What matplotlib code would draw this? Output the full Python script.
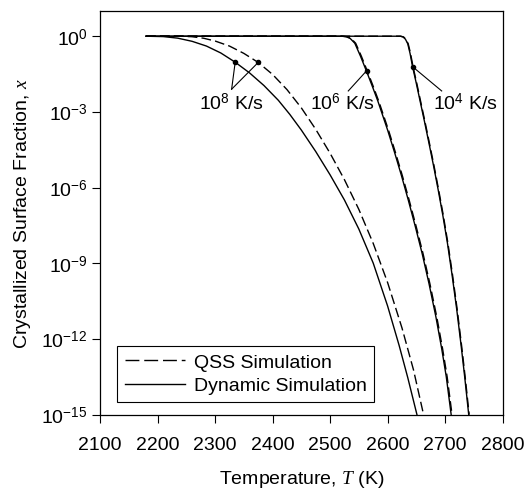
import numpy as np
import matplotlib
matplotlib.use("Agg")
import matplotlib.pyplot as plt
from matplotlib.lines import Line2D

plt.rcParams['font.family'] = ['Liberation Sans', 'DejaVu Sans']
plt.rcParams['mathtext.fontset'] = 'custom'
plt.rcParams['mathtext.rm'] = 'Liberation Sans'
plt.rcParams['mathtext.sf'] = 'Liberation Sans'
plt.rcParams['mathtext.it'] = 'Liberation Serif:italic'
plt.rcParams['mathtext.bf'] = 'Liberation Sans:bold'
plt.rcParams['font.size'] = 14

# temperature (K) and log10 of crystallized fraction
T_dyn_8 = [2180, 2210, 2235, 2260, 2285, 2310, 2335, 2360, 2385, 2410, 2430,
           2450, 2475, 2500, 2525, 2550, 2575, 2600, 2620, 2635, 2651]
d_dyn_8 = [0, -0.015, -0.077, -0.202, -0.39, -0.665, -1.03, -1.455, -1.955, -2.54, -3.10,
           -3.72, -4.57, -5.495, -6.495, -7.645, -8.995, -10.695, -12.255, -13.53, -15.0]

T_qss_8 = [2180, 2240, 2260, 2280, 2300, 2325, 2350, 2375, 2400, 2425, 2450,
           2475, 2500, 2525, 2550, 2575, 2600, 2625, 2645, 2662.5]
d_qss_8 = [0, 0, -0.02, -0.08, -0.19, -0.39, -0.68, -1.04, -1.515, -2.115, -2.84,
           -3.69, -4.64, -5.69, -6.865, -8.215, -9.765, -11.565, -13.225, -15.0]

T_dyn_6 = [2180, 2520, 2528, 2535, 2543, 2553, 2563, 2573, 2583, 2600, 2612,
           2624, 2636, 2648, 2660, 2672, 2684, 2694, 2702, 2710.5]
d_dyn_6 = [0, 0, -0.02, -0.09, -0.28, -0.8, -1.37, -1.96, -2.57, -3.72, -4.6,
           -5.52, -6.5, -7.53, -8.61, -9.81, -11.13, -12.38, -13.5, -15.0]
T_qss_6 = [2180, 2521.5, 2529.5, 2536.5, 2544.5, 2554.5, 2564.5, 2574.5, 2584.5, 2601.5, 2613.5,
           2625.5, 2637.5, 2649.5, 2661.5, 2673.5, 2685.5, 2695.5, 2703.5, 2712]
d_qss_6 = d_dyn_6

T_dyn_4 = [2180, 2622, 2627, 2631, 2635, 2639, 2643.5, 2650, 2656, 2664, 2672,
           2680, 2688, 2696, 2704, 2712, 2720, 2728, 2734, 2741]
d_dyn_4 = [0, 0, -0.03, -0.12, -0.3, -0.68, -1.22, -1.88, -2.52, -3.37, -4.25,
           -5.15, -6.1, -7.1, -8.2, -9.45, -10.8, -12.3, -13.5, -15.0]
T_qss_4 = [2180, 2622.8, 2627.8, 2631.8, 2635.8, 2639.8, 2644.3, 2650.8, 2656.8, 2664.8, 2672.8,
           2680.8, 2688.8, 2696.8, 2704.8, 2712.8, 2720.8, 2728.8, 2734.8, 2741.8]
d_qss_4 = d_dyn_4

# rate labels with their leader lines and marker dots
rate_labels = ['10$^8$ K/s', '10$^6$ K/s', '10$^4$ K/s']
label_T = [2328, 2521.5, 2734.5]
label_d = [-2.62, -2.62, -2.62]
joint_T = [2328.8, 2531.6, 2694]
joint_d = [-2.10, -2.17, -2.17]
mark_T = [[2335, 2375], [2563.5], [2644]]
mark_d = [[-1.03, -1.04], [-1.37], [-1.22]]

yticks_exp = [0, -3, -6, -9, -12, -15]

fig = plt.figure(figsize=(5.27, 4.89), dpi=100)
ax = fig.add_axes([0.1898, 0.150, 0.764, 0.8255])

lw = 1.0
dash = (7, 3)
for T, d in [(T_dyn_8, d_dyn_8), (T_dyn_6, d_dyn_6), (T_dyn_4, d_dyn_4)]:
    ax.plot(T, 10.0 ** np.array(d), color='black', lw=lw)
for T, d in [(T_qss_8, d_qss_8), (T_qss_6, d_qss_6), (T_qss_4, d_qss_4)]:
    ax.plot(T, 10.0 ** np.array(d), color='black', lw=lw, dashes=dash)

for i, txt in enumerate(rate_labels):
    for mt, md in zip(mark_T[i], mark_d[i]):
        ax.plot([joint_T[i], mt], [10.0 ** joint_d[i], 10.0 ** md], color='black', lw=0.8)
        ax.plot(mt, 10.0 ** md, 'o', color='black', ms=3)
    ax.text(label_T[i], 10.0 ** label_d[i], txt, ha='center', va='center', fontsize=14)

ax.set_yscale('log')
ax.set_xlim(2100, 2800)
ax.set_ylim(1e-15, 1e1)
ax.set_xticks(np.arange(2100, 2801, 100))
ax.set_yticks([10.0 ** e for e in yticks_exp])
ax.set_yticklabels(['10$^{%d}$' % e for e in yticks_exp])
ax.yaxis.set_minor_locator(matplotlib.ticker.NullLocator())
ax.tick_params(direction='out', length=5.5, width=0.8, pad=3.5)
ax.tick_params(axis='x', pad=10)
for s in ax.spines.values():
    s.set_linewidth(0.9)

ax.set_xlabel('Temperature, $T$ (K)', labelpad=11)
ax.set_ylabel('Crystallized Surface Fraction, $x$', labelpad=6)

handles = [Line2D([], [], color='black', lw=lw, dashes=(10, 3.5)),
           Line2D([], [], color='black', lw=lw)]
leg = ax.legend(handles, ['QSS Simulation', 'Dynamic Simulation'], loc='lower left',
                bbox_to_anchor=(0.042, 0.031), borderaxespad=0, fancybox=False,
                edgecolor='black', framealpha=1, handlelength=3.1, handletextpad=0.45,
                labelspacing=0.3, borderpad=0.4)
leg.get_frame().set_linewidth(0.8)

fig.savefig('out.png', dpi=100)
